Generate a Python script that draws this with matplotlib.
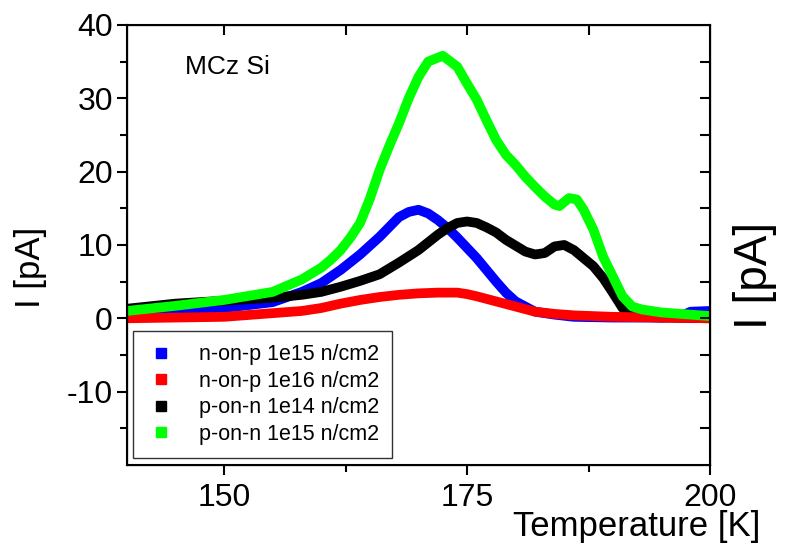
import matplotlib
matplotlib.use('Agg')
import matplotlib.pyplot as plt
from matplotlib.lines import Line2D

plt.rcParams['font.family'] = ['Liberation Sans', 'DejaVu Sans']
plt.rcParams['axes.unicode_minus'] = False

# --- datos (T en K, I en pA)
t_blue = [140, 145, 150, 155, 158, 160, 162, 164, 166, 168, 169, 170, 171, 172, 173, 174, 175, 176, 177, 178,
          179, 180, 181, 182, 184, 186, 190, 195, 197, 198, 200]
i_blue = [0.7, 0.9, 1.4, 2.2, 3.6, 4.8, 6.6, 8.7, 11.1, 13.8, 14.5, 14.8, 14.3, 13.4, 12.3, 11.0, 9.6, 8.2, 6.6, 5.0,
          3.5, 2.3, 1.6, 0.9, 0.5, 0.2, 0.1, 0.1, 0.3, 0.9, 1.0]

t_red = [140, 145, 150, 155, 158, 160, 162, 164, 166, 168, 170, 172, 174, 175, 176, 178, 180, 182, 184, 186, 190, 195, 200]
i_red = [0.0, 0.1, 0.2, 0.7, 1.0, 1.4, 2.0, 2.5, 2.9, 3.2, 3.4, 3.5, 3.5, 3.3, 3.0, 2.3, 1.6, 0.9, 0.6, 0.4, 0.2, 0.1, 0.0]

t_black = [140, 145, 150, 155, 158, 160, 162, 164, 166, 168, 170, 172, 173, 174, 175, 176, 177, 178, 179, 180,
           181, 182, 183, 184, 185, 186, 187, 188, 189, 190, 191, 192, 193, 195, 200]
i_black = [1.3, 2.0, 2.4, 2.8, 3.2, 3.6, 4.3, 5.1, 6.0, 7.6, 9.3, 11.4, 12.3, 13.0, 13.2, 13.0, 12.4, 11.7, 10.7, 9.9,
           9.1, 8.7, 8.9, 9.8, 10.0, 9.3, 8.2, 7.1, 5.5, 3.5, 1.4, 0.5, 0.2, 0.1, 0.0]

t_green = [140, 145, 150, 155, 158, 160, 161, 162, 163, 164, 165, 166, 167, 168, 169, 170, 171, 172.5, 174, 175, 176,
           177, 178, 179, 180, 181, 182, 183, 184, 184.5, 185.5, 186.3, 187, 188, 189, 190, 191, 192, 193, 195, 200]
i_green = [1.0, 1.7, 2.5, 3.6, 5.3, 6.9, 8.0, 9.3, 11.0, 13.0, 16.3, 20.2, 23.5, 26.6, 30.0, 32.9, 35.0, 35.8, 34.3,
           32.0, 29.8, 27.0, 24.3, 22.3, 20.9, 19.3, 17.9, 16.6, 15.5, 15.3, 16.4, 16.2, 14.8, 12.1, 8.4, 5.7, 3.0,
           1.6, 1.2, 0.8, 0.3]

series = [
    ('n-on-p 1e15 n/cm2', t_blue, i_blue, '#0000ff'),
    ('n-on-p 1e16 n/cm2', t_red, i_red, '#ff0000'),
    ('p-on-n 1e14 n/cm2', t_black, i_black, '#000000'),
    ('p-on-n 1e15 n/cm2', t_green, i_green, '#00ff00'),
]

fig = plt.figure(figsize=(7.88, 5.48), dpi=100)
ax = fig.add_axes([0.161, 0.1515, 0.740, 0.803])

# orden de dibujo: azul y rojo abajo, negro, verde encima
for lab, t, i, c in [series[0], series[2], series[1], series[3]]:
    ax.plot(t, i, color=c, lw=7, solid_capstyle='butt', solid_joinstyle='round')

ax.set_xlim(140, 200)
ax.set_ylim(-20, 40)
ax.set_xticks([150, 175, 200])
ax.set_xticks([162.5, 187.5], minor=True)
ax.set_yticks([-10, 0, 10, 20, 30, 40])
ax.set_yticks([-15, -5, 5, 15, 25, 35], minor=True)
ax.tick_params(which='major', direction='out', length=7, width=1.5, labelsize=23)
ax.tick_params(axis='x', which='major', pad=6)
ax.tick_params(axis='y', which='major', pad=3)
ax.tick_params(which='minor', direction='out', length=5, width=1.5)
for s in ax.spines.values():
    s.set_linewidth(1.5)

# ejes secundarios para los ticks interiores (arriba y derecha)
axr = ax.twinx()
axr.set_ylim(-20, 40)
axr.set_yticks(range(-15, 40, 5))
axr.tick_params(direction='in', length=7, width=1.5, labelright=False)
axr.set_ylabel('I [pA]', fontsize=33, va='center', rotation=90)
axr.yaxis.set_label_coords(1.077, 0.43)

axt = ax.twiny()
axt.set_xlim(140, 200)
axt.set_xticks([150, 162.5, 175, 187.5])
axt.tick_params(direction='in', length=7, width=1.5, labeltop=False)

ax.set_xlabel('Temperature [K]', fontsize=25, va='center')
ax.xaxis.set_label_coords(0.875, -0.14)
ax.set_ylabel('I [pA]', fontsize=25, va='center')
ax.yaxis.set_label_coords(-0.166, 0.448)

ax.text(146, 34.3, 'MCz Si', fontsize=19, va='center', ha='left')

handles = [Line2D([], [], ls='none', marker='s', ms=7, color=c, mec=c) for _, _, _, c in series]
labels = [s[0] for s in series]
leg = ax.legend(handles, labels, loc='lower left', bbox_to_anchor=(0.0103, 0.016),
                borderaxespad=0, fontsize=15.5, frameon=True, fancybox=False,
                labelspacing=0.26, handletextpad=1.0, handlelength=1.45, borderpad=0.6)
leg.get_frame().set_edgecolor('black')
leg.get_frame().set_linewidth(1.0)
leg.set_zorder(5)

fig.savefig('out.png', dpi=100)
